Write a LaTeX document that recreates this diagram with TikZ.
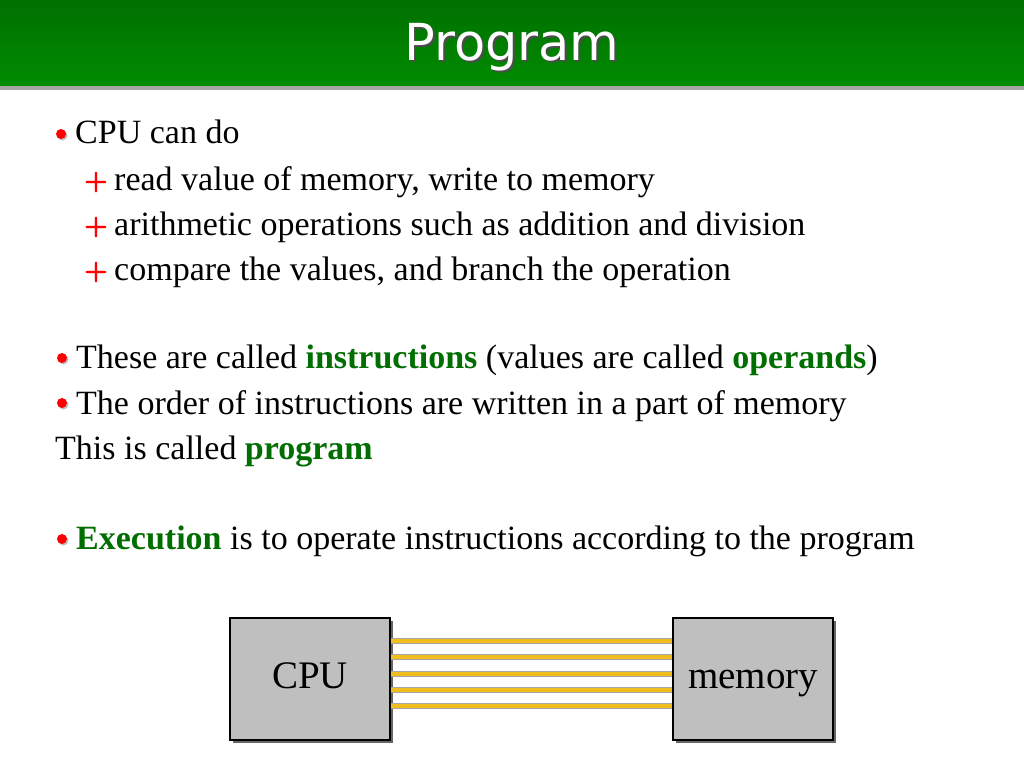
\documentclass[tikz,border=0pt]{standalone}
\usepackage{fontspec}
\setmainfont{Liberation Serif}
\newfontfamily\titlefont{DejaVu Sans}
\usetikzlibrary{positioning}
\definecolor{kwgreen}{RGB}{0,110,0}
\definecolor{barhi}{RGB}{0,112,0}
\definecolor{barlo}{RGB}{0,140,0}
\definecolor{busyellow}{RGB}{240,190,30}
\tikzset{
  txt/.style={anchor=base west,inner sep=0pt,font=\fontsize{34}{36}\selectfont},
  dotmark/.style={circle,fill=red,inner sep=0pt,minimum size=10pt},
  dotshadow/.style={circle,fill=gray!50,inner sep=0pt,minimum size=10pt},
  plusmark/.style={anchor=base west,inner sep=0pt,text=red,font=\fontsize{28}{28}\selectfont\bfseries\sffamily},
  unitbox/.style={draw=black,line width=1.2pt,fill=gray!50,minimum width=160pt,minimum height=122pt,inner sep=0pt,text height=26pt,text depth=8pt,font=\fontsize{39}{39}\selectfont},
  busline/.style={line width=4pt,draw=busyellow}
}
\newcommand{\kw}[1]{\textcolor{kwgreen}{\textbf{#1}}}
\begin{document}
\begin{tikzpicture}[x=1pt,y=-1pt]
\useasboundingbox (0,0) rectangle (1024,768);
\fill[white] (0,0) rectangle (1024,768);
% title bar
\shade[top color=barhi,bottom color=barlo] (0,0) rectangle (1024,86);
\fill[gray!70] (0,86) rectangle (1024,90);
\node[text=black!70,font=\titlefont\fontsize{51}{51}\selectfont] at (514,49) {Program};
\node[text=white,font=\titlefont\fontsize{51}{51}\selectfont] (title) at (512,47) {Program};

% bullet text
\foreach \n/\x/\y in {1/61/134,2/62/358,3/62/403,4/62/539}{
  \node[dotshadow] at (\x+1.5,\y+1.5) {};
  \node[dotmark] (d\n) at (\x,\y) {};
}
\node[txt] (l1) at (75,143) {CPU can do};
\node[plusmark] (p1) at (84,189) {+};
\node[txt] (l2) at (114,190) {read value of memory, write to memory};
\node[plusmark] (p2) at (84,234) {+};
\node[txt] (l3) at (114,235) {arithmetic operations such as addition and division};
\node[plusmark] (p3) at (84,279) {+};
\node[txt] (l4) at (114,280) {compare the values, and branch the operation};
\node[txt] (l5) at (76,368) {These are called \kw{instructions} (values are called \kw{operands})};
\node[txt] (l6) at (76,414) {The order of instructions are written in a part of memory};
\node[txt] (l7) at (55,459) {This is called \kw{program}};
\node[txt] (l8) at (76,549) {\kw{Execution} is to operate instructions according to the program};

% cpu and memory
\fill[gray!80!black] (233,621) rectangle (393,743);
\fill[gray!80!black] (676,621) rectangle (836,743);
\node[unitbox] (cpu) at (310,679) {CPU};
\node[unitbox] (mem) at (753,679) {memory};
\foreach \y in {641,657,674,690,706}{
  \draw[line width=5.5pt,draw=gray!70] (cpu.east |- 0,\y) -- (mem.west |- 0,\y);
  \draw[busline] (cpu.east |- 0,\y) -- (mem.west |- 0,\y);
}
\end{tikzpicture}
\end{document}
